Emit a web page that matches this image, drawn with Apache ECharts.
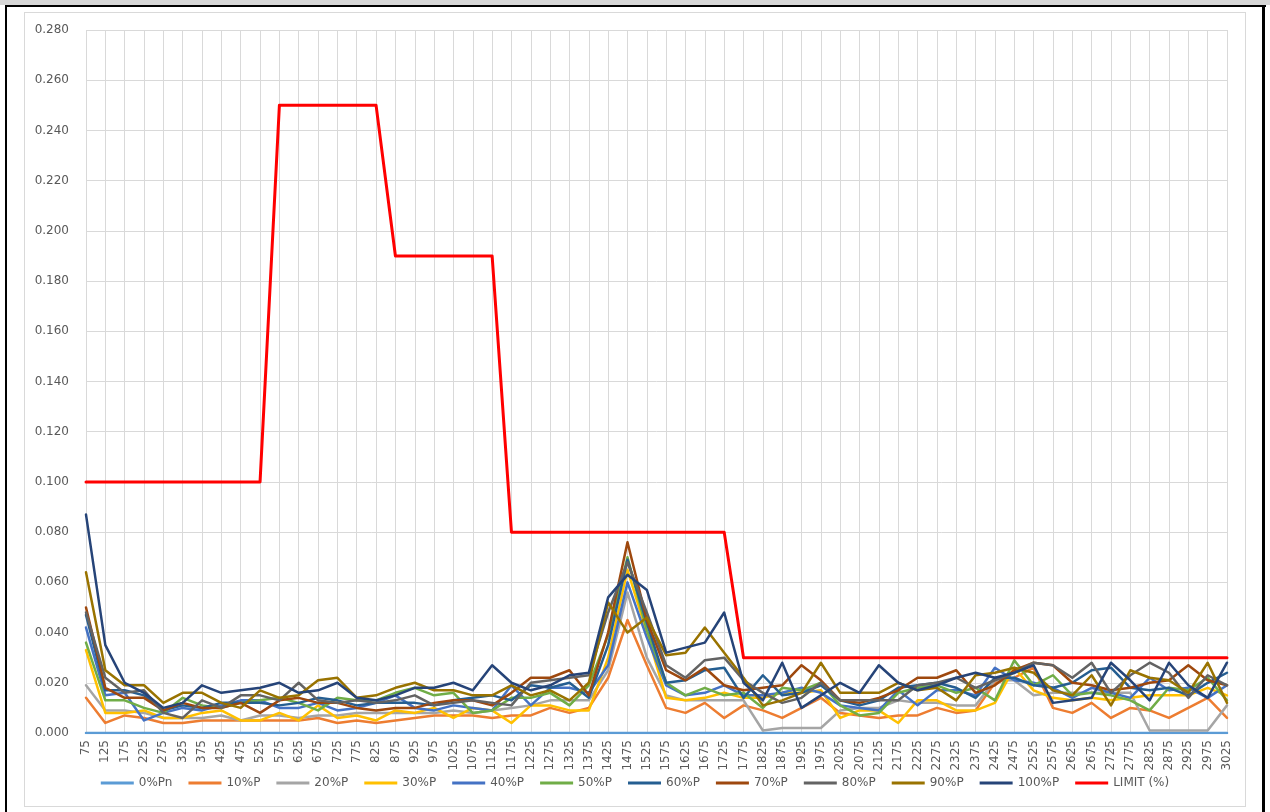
<!DOCTYPE html>
<html>
<head>
<meta charset="utf-8">
<title>Harmonics vs limit</title>
<script src="https://cdn.jsdelivr.net/npm/echarts@6/dist/echarts.min.js"></script>
<style>
  html, body { margin: 0; padding: 0; background: #ffffff; }
  #sheet { position: relative; width: 1270px; height: 812px; overflow: hidden; background: #ffffff; }
  #topband { position: absolute; left: 0; top: 0; width: 1270px; height: 5px; background: #d6d6d6; }
  #topline { position: absolute; left: 5px; top: 5px; width: 1261px; height: 2px; background: #000000; }
  #leftline { position: absolute; left: 5px; top: 5px; width: 2px; height: 807px; background: #000000; }
  #rightline { position: absolute; left: 1262px; top: 5px; width: 3px; height: 807px; background: #000000; }
  #frame { position: absolute; left: 24px; top: 12px; width: 1222px; height: 795px; border: 1px solid #d9d9d9; box-sizing: border-box; }
  #chart { position: absolute; left: 0; top: 0; width: 1270px; height: 812px; }
</style>
</head>
<body>
<div id="sheet">
  <div id="topband"></div>
  <div id="topline"></div>
  <div id="leftline"></div>
  <div id="rightline"></div>
  <div id="frame"></div>
  <div id="chart"></div>
</div>
<script>
// Frequency bins (x-axis categories)
const categories = ['75','125','175','225','275','325','375','425','475','525',
  '575','625','675','725','775','825','875','925','975','1025',
  '1075','1125','1175','1225','1275','1325','1375','1425','1475','1525',
  '1575','1625','1675','1725','1775','1825','1875','1925','1975','2025',
  '2075','2125','2175','2225','2275','2325','2375','2425','2475','2525',
  '2575','2625','2675','2725','2775','2825','2875','2925','2975','3025'];

// Y-axis tick labels
const yTicks = ['0.000','0.020','0.040','0.060','0.080','0.100','0.120','0.140',
  '0.160','0.180','0.200','0.220','0.240','0.260','0.280'];

const seriesNames = ['0%Pn','10%P','20%P','30%P','40%P','50%P','60%P','70%P','80%P','90%P','100%P','LIMIT (%)'];

const p0 = [0,0,0,0,0,0,0,0,0,0, 0,0,0,0,0,0,0,0,0,0, 0,0,0,0,0,0,0,0,0,0,
  0,0,0,0,0,0,0,0,0,0, 0,0,0,0,0,0,0,0,0,0, 0,0,0,0,0,0,0,0,0,0];

const p10 = [0.014,0.004,0.007,0.006,0.004,0.004,0.005,0.005,0.005,0.005,
  0.005,0.005,0.006,0.004,0.005,0.004,0.005,0.006,0.007,0.007,
  0.007,0.006,0.007,0.007,0.010,0.008,0.010,0.022,0.045,0.027,
  0.010,0.008,0.012,0.006,0.011,0.009,0.006,0.010,0.014,0.008,
  0.007,0.006,0.007,0.007,0.010,0.008,0.009,0.020,0.022,0.026,
  0.010,0.008,0.012,0.006,0.010,0.009,0.006,0.010,0.014,0.006];

const p20 = [0.019,0.009,0.009,0.008,0.006,0.006,0.006,0.007,0.005,0.007,
  0.007,0.006,0.007,0.007,0.008,0.008,0.008,0.008,0.008,0.009,
  0.008,0.009,0.010,0.011,0.013,0.013,0.013,0.025,0.056,0.030,
  0.015,0.013,0.013,0.013,0.013,0.001,0.002,0.002,0.002,0.009,
  0.010,0.010,0.013,0.012,0.012,0.011,0.011,0.021,0.021,0.015,
  0.016,0.016,0.016,0.016,0.016,0.001,0.001,0.001,0.001,0.011];

const p30 = [0.033,0.008,0.008,0.009,0.006,0.006,0.008,0.009,0.005,0.005,
  0.008,0.005,0.011,0.006,0.007,0.005,0.009,0.008,0.010,0.006,
  0.010,0.009,0.004,0.011,0.011,0.009,0.009,0.030,0.065,0.040,
  0.014,0.013,0.014,0.016,0.014,0.014,0.016,0.016,0.017,0.006,
  0.009,0.009,0.004,0.013,0.013,0.009,0.009,0.012,0.026,0.017,
  0.014,0.013,0.014,0.013,0.014,0.015,0.015,0.015,0.018,0.015];

const p40 = [0.042,0.015,0.016,0.005,0.008,0.010,0.009,0.011,0.013,0.013,
  0.010,0.010,0.012,0.009,0.010,0.012,0.015,0.010,0.009,0.011,
  0.010,0.009,0.019,0.011,0.018,0.018,0.016,0.027,0.060,0.038,
  0.019,0.015,0.016,0.019,0.015,0.015,0.016,0.018,0.016,0.011,
  0.010,0.009,0.017,0.011,0.017,0.017,0.015,0.026,0.021,0.020,
  0.018,0.014,0.018,0.016,0.014,0.022,0.017,0.018,0.014,0.019];

const p50 = [0.036,0.013,0.013,0.010,0.008,0.014,0.011,0.010,0.012,0.013,
  0.014,0.012,0.009,0.014,0.013,0.013,0.016,0.018,0.015,0.016,
  0.008,0.009,0.014,0.014,0.016,0.011,0.019,0.039,0.070,0.041,
  0.020,0.015,0.018,0.015,0.016,0.010,0.018,0.017,0.020,0.011,
  0.007,0.008,0.016,0.018,0.019,0.016,0.018,0.013,0.029,0.019,
  0.023,0.015,0.016,0.015,0.013,0.009,0.018,0.017,0.022,0.013];

const p60 = [0.047,0.017,0.017,0.015,0.009,0.011,0.010,0.012,0.012,0.012,
  0.011,0.012,0.014,0.013,0.011,0.012,0.012,0.012,0.011,0.013,
  0.014,0.015,0.013,0.019,0.018,0.020,0.014,0.035,0.069,0.044,
  0.020,0.021,0.025,0.026,0.014,0.023,0.015,0.016,0.019,0.013,
  0.011,0.013,0.018,0.019,0.020,0.018,0.014,0.022,0.022,0.019,
  0.018,0.020,0.025,0.026,0.018,0.017,0.018,0.015,0.020,0.024];

const p70 = [0.050,0.018,0.014,0.014,0.009,0.012,0.010,0.010,0.012,0.008,
  0.013,0.014,0.012,0.012,0.010,0.009,0.010,0.010,0.012,0.013,
  0.013,0.011,0.016,0.022,0.022,0.025,0.015,0.040,0.076,0.045,
  0.025,0.021,0.026,0.019,0.017,0.018,0.019,0.027,0.021,0.013,
  0.012,0.014,0.017,0.022,0.022,0.025,0.016,0.019,0.025,0.028,
  0.027,0.020,0.019,0.017,0.018,0.020,0.021,0.027,0.021,0.019];

const p80 = [0.048,0.022,0.016,0.017,0.008,0.006,0.013,0.010,0.015,0.015,
  0.013,0.020,0.013,0.012,0.013,0.012,0.013,0.015,0.011,0.012,
  0.013,0.012,0.011,0.020,0.021,0.022,0.023,0.048,0.068,0.048,
  0.027,0.022,0.029,0.030,0.021,0.016,0.012,0.014,0.020,0.013,
  0.013,0.013,0.013,0.019,0.020,0.022,0.018,0.021,0.024,0.028,
  0.027,0.022,0.028,0.016,0.023,0.028,0.024,0.014,0.023,0.019];

const p90 = [0.064,0.025,0.019,0.019,0.012,0.016,0.016,0.012,0.010,0.017,
  0.014,0.015,0.021,0.022,0.014,0.015,0.018,0.020,0.017,0.017,
  0.015,0.015,0.019,0.015,0.017,0.013,0.020,0.052,0.040,0.046,
  0.031,0.032,0.042,0.032,0.022,0.011,0.013,0.016,0.028,0.016,
  0.016,0.016,0.020,0.017,0.018,0.013,0.023,0.024,0.026,0.024,
  0.017,0.015,0.023,0.011,0.025,0.022,0.021,0.016,0.028,0.012];

const p100 = [0.087,0.035,0.020,0.016,0.010,0.012,0.019,0.016,0.017,0.018,
  0.020,0.016,0.017,0.020,0.014,0.013,0.015,0.018,0.018,0.020,
  0.017,0.027,0.020,0.017,0.019,0.023,0.024,0.054,0.063,0.057,
  0.032,0.034,0.036,0.048,0.020,0.013,0.028,0.010,0.015,0.020,
  0.016,0.027,0.020,0.017,0.019,0.022,0.024,0.022,0.024,0.027,
  0.012,0.013,0.014,0.028,0.021,0.013,0.028,0.019,0.014,0.028];

const limit = [0.100,0.100,0.100,0.100,0.100,0.100,0.100,0.100,0.100,0.100,
  0.250,0.250,0.250,0.250,0.250,0.250,0.190,0.190,0.190,0.190,
  0.190,0.190,0.080,0.080,0.080,0.080,0.080,0.080,0.080,0.080,
  0.080,0.080,0.080,0.080,0.030,0.030,0.030,0.030,0.030,0.030,
  0.030,0.030,0.030,0.030,0.030,0.030,0.030,0.030,0.030,0.030,
  0.030,0.030,0.030,0.030,0.030,0.030,0.030,0.030,0.030,0.030];

const seriesValues = [p0, p10, p20, p30, p40, p50, p60, p70, p80, p90, p100, limit];

const palette = ['#5B9BD5','#ED7D31','#A5A5A5','#FFC000','#4472C4','#70AD47',
  '#255E91','#9E480E','#636363','#997300','#264478','#FF0000'];

const font = 'DejaVu Sans';
const textColor = '#595959';
const gridColor = '#d9d9d9';

const chart = echarts.init(document.getElementById('chart'), null, { renderer: 'canvas' });

chart.setOption({
  animation: false,
  backgroundColor: 'transparent',
  color: palette,
  grid: { left: 86, right: 43, top: 30, bottom: 79, containLabel: false },
  legend: {
    data: seriesNames,
    bottom: 18,
    left: 'center',
    itemWidth: 33,
    itemHeight: 12,
    itemGap: 16,
    icon: 'path://M0,5 L33,5 L33,8 L0,8 Z',
    textStyle: { fontFamily: font, fontSize: 12, color: textColor }
  },
  xAxis: {
    type: 'category',
    data: categories,
    boundaryGap: false,
    axisTick: { show: false },
    axisLine: { show: true, lineStyle: { color: gridColor, width: 1 } },
    splitLine: { show: true, lineStyle: { color: gridColor, width: 1 } },
    axisLabel: {
      interval: 0, rotate: 90, margin: 7,
      fontFamily: font, fontSize: 12, color: textColor
    }
  },
  yAxis: {
    type: 'value',
    min: 0, max: 0.28, interval: 0.02,
    axisTick: { show: false },
    axisLine: { show: false },
    splitLine: { show: true, lineStyle: { color: gridColor, width: 1 } },
    axisLabel: {
      margin: 17, fontFamily: font, fontSize: 12, color: textColor,
      formatter: function (v) { return yTicks[Math.round(v / 0.02)]; }
    }
  },
  series: seriesNames.map(function (name, i) {
    return {
      name: name,
      type: 'line',
      data: seriesValues[i],
      symbol: 'none',
      showSymbol: false,
      lineStyle: { width: i === 11 ? 3 : 2.5, color: palette[i], join: 'round', cap: 'round' },
      itemStyle: { color: palette[i] },
      emphasis: { disabled: true }
    };
  })
});
</script>
</body>
</html>
